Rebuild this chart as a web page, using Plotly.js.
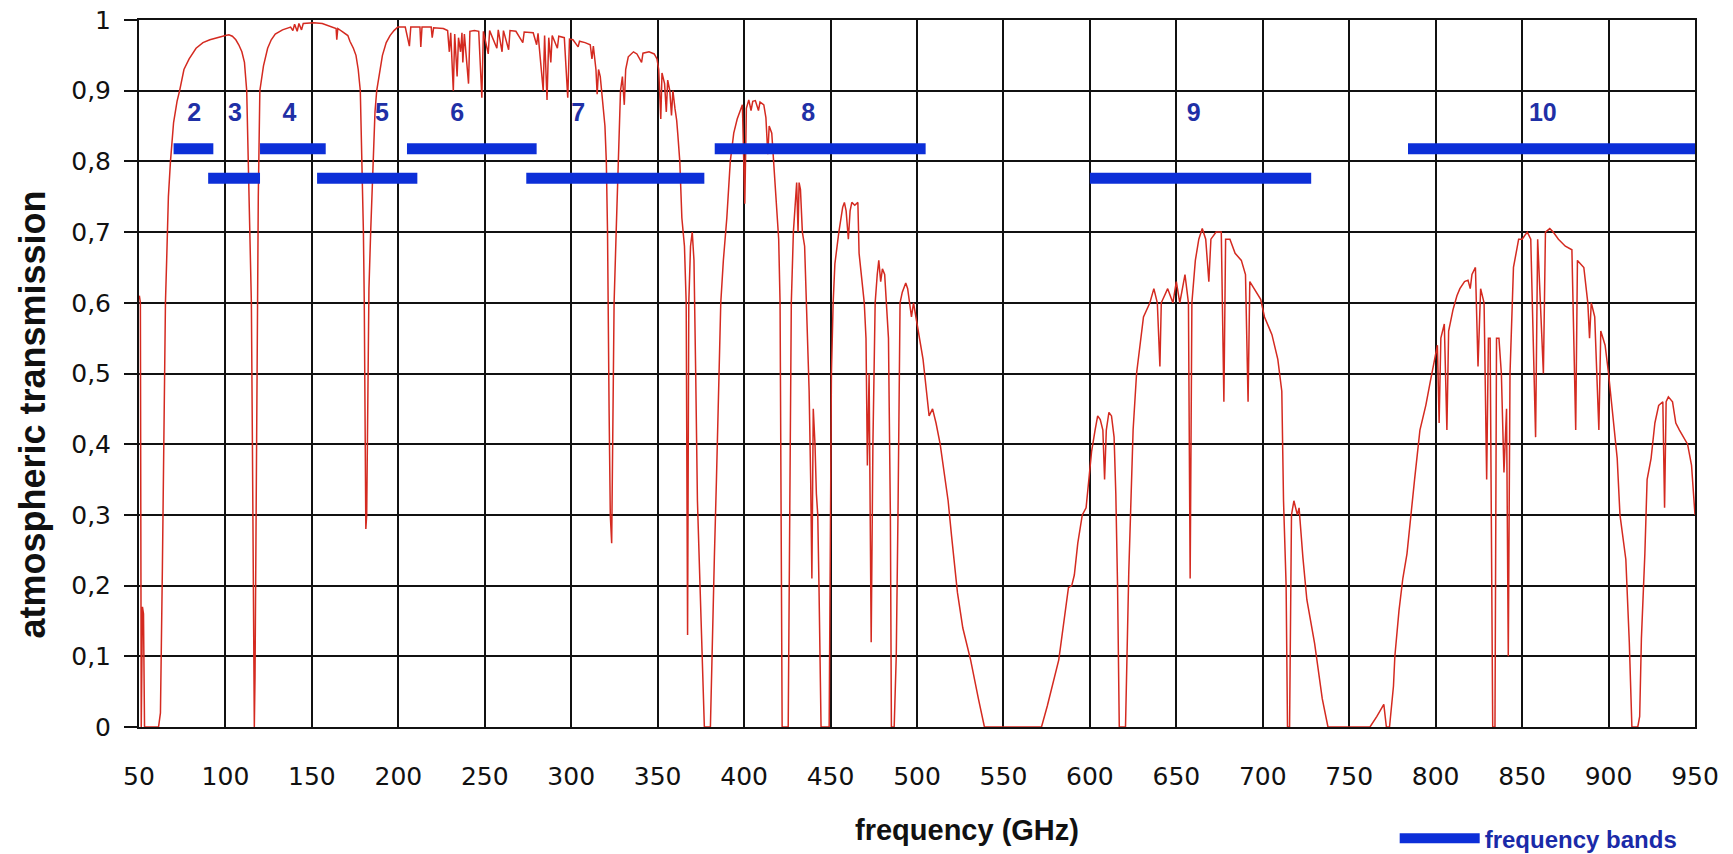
<!DOCTYPE html>
<html>
<head>
<meta charset="utf-8">
<script src="https://cdn.plot.ly/plotly-3.0.1.min.js"></script>
<style>
  html, body { margin: 0; padding: 0; background: #ffffff; }
  #chart { width: 1733px; height: 854px; }
</style>
</head>
<body>
<div id="chart"></div>
<script>
// ---- Data ----
const freqGHz = [
  50.2, 50.8, 51.3, 52.0, 52.6, 53.2, 61.3, 62.4, 63.5, 64.6, 65.3, 66.0, 67.0, 68.2, 70.0, 72.0, 73.5, 76.0, 79.0, 83.0,
  87.0, 91.0, 95.0, 100.0, 102.0, 104.0, 106.0, 107.7, 109.5, 111.0, 112.3, 113.3, 114.3, 115.0, 115.6, 116.0, 116.4, 116.7, 117.1, 117.5,
  117.9, 118.3, 119.0, 119.9, 122.0, 124.4, 126.5, 128.8, 133.0, 137.7, 139.0, 140.0, 141.5, 142.5, 144.0, 145.0, 151.0, 156.0, 160.0, 164.0,
  164.4, 165.0, 168.0, 170.8, 172.0, 174.0, 175.5, 176.8, 178.0, 179.0, 179.8, 180.3, 180.8, 181.2, 181.7, 182.3, 183.0, 184.0, 185.3, 186.5,
  187.5, 189.0, 190.8, 193.0, 195.2, 197.5, 199.7, 204.0, 206.4, 207.2, 212.5, 213.0, 213.7, 219.0, 219.6, 220.4, 226.0, 228.5, 229.5, 230.3,
  231.8, 232.6, 234.0, 234.8, 236.0, 236.8, 237.3, 238.2, 240.6, 241.4, 244.0, 246.5, 248.3, 249.2, 252.0, 252.8, 257.0, 257.8, 260.0, 260.8,
  263.8, 264.6, 268.0, 272.0, 272.8, 278.0, 280.0, 280.8, 283.8, 284.6, 286.0, 287.0, 288.2, 289.0, 292.0, 292.8, 296.0, 298.0, 299.0, 301.0,
  304.0, 304.8, 308.0, 311.0, 312.0, 312.8, 314.3, 315.0, 315.8, 316.8, 317.6, 318.6, 319.5, 320.3, 321.0, 321.9, 322.6, 323.4, 324.0, 324.8,
  326.0, 327.3, 328.5, 329.6, 330.7, 331.5, 333.0, 336.0, 338.0, 340.7, 341.5, 345.0, 348.0, 349.6, 350.6, 351.8, 352.5, 354.0, 355.0, 355.8,
  357.0, 358.0, 358.8, 360.0, 361.0, 361.6, 362.8, 364.0, 365.5, 366.5, 367.3, 368.0, 369.0, 370.0, 371.0, 372.0, 373.0, 374.5, 376.0, 377.0,
  380.5, 381.5, 382.8, 384.0, 385.5, 386.5, 388.0, 390.0, 392.0, 394.0, 396.0, 399.0, 400.4, 401.3, 402.7, 404.0, 405.0, 406.5, 408.3, 409.2,
  411.4, 412.6, 413.7, 414.5, 416.0, 417.0, 418.5, 420.0, 420.8, 421.5, 422.0, 425.5, 426.5, 427.3, 428.5, 430.4, 431.2, 431.8, 432.6, 433.7,
  435.0, 436.0, 437.0, 437.6, 438.5, 439.2, 440.0, 441.0, 441.8, 442.6, 443.3, 444.5, 449.2, 449.8, 450.5, 451.5, 452.5, 454.8, 457.0, 458.0,
  459.0, 460.3, 461.3, 462.3, 464.0, 465.8, 466.5, 468.0, 469.5, 470.5, 471.3, 472.3, 473.5, 474.5, 475.8, 477.0, 477.9, 479.0, 480.0, 481.3,
  482.4, 483.5, 484.6, 485.2, 486.8, 488.0, 489.0, 490.2, 491.5, 493.5, 494.6, 496.8, 498.0, 500.0, 503.5, 505.7, 507.0, 509.0, 511.0, 513.4,
  515.6, 518.0, 520.0, 522.3, 523.4, 526.5, 531.0, 535.5, 539.0, 572.0, 575.4, 582.0, 587.6, 589.5, 591.0, 593.0, 595.6, 597.8, 599.5, 601.0,
  603.0, 604.5, 606.0, 607.5, 608.5, 609.5, 611.0, 612.5, 614.0, 615.0, 616.0, 617.0, 620.6, 621.5, 622.5, 623.5, 625.0, 627.0, 628.8, 631.0,
  634.7, 637.0, 639.0, 640.5, 641.3, 645.0, 648.0, 650.0, 652.0, 655.0, 657.0, 658.0, 659.0, 661.0, 663.0, 665.0, 667.0, 668.8, 670.0, 673.0,
  676.0, 677.5, 678.5, 681.0, 684.0, 687.6, 690.0, 691.5, 692.5, 695.0, 698.8, 701.0, 705.3, 708.7, 711.0, 712.0, 713.5, 714.3, 715.5, 716.6,
  718.0, 720.0, 721.0, 723.2, 725.5, 730.0, 734.4, 737.7, 762.0, 766.0, 770.0, 771.5, 773.3, 775.6, 776.4, 778.8, 781.0, 783.4, 785.0, 787.8,
  790.9, 794.3, 797.0, 799.0, 801.0, 802.0, 803.0, 805.0, 806.5, 807.5, 810.0, 812.3, 814.0, 816.7, 818.7, 820.0, 821.0, 823.0, 824.5, 826.0,
  828.0, 829.5, 830.5, 831.5, 832.5, 833.0, 834.3, 835.2, 836.6, 838.0, 839.5, 841.0, 842.0, 843.0, 845.0, 848.0, 850.0, 853.0, 855.0, 857.8,
  859.0, 862.3, 863.5, 866.0, 868.0, 871.0, 875.0, 878.8, 881.0, 882.0, 885.7, 888.0, 889.0, 890.0, 892.0, 894.4, 895.5, 898.0, 900.0, 903.4,
  905.0, 906.6, 910.0, 912.0, 913.5, 916.9, 918.0, 919.0, 921.0, 922.3, 924.6, 926.8, 929.0, 931.4, 932.4, 933.3, 934.6, 937.0, 938.9, 941.0,
  943.5, 945.7, 948.0, 949.0, 950.0
];
const transmission = [
  0.61, 0.60, 0.0, 0.17, 0.16, 0.0, 0.0, 0.02, 0.22, 0.5, 0.6, 0.66, 0.75, 0.8, 0.855, 0.885, 0.9, 0.93, 0.945, 0.96,
  0.968, 0.972, 0.975, 0.978, 0.979, 0.977, 0.972, 0.965, 0.955, 0.94, 0.9, 0.8, 0.7, 0.6, 0.4, 0.22, 0.07, 0.0, 0.07, 0.22,
  0.45, 0.6, 0.75, 0.9, 0.935, 0.96, 0.972, 0.98, 0.986, 0.99, 0.985, 0.994, 0.984, 0.995, 0.986, 0.995, 0.996, 0.995, 0.992, 0.988,
  0.972, 0.988, 0.983, 0.978, 0.97, 0.96, 0.95, 0.93, 0.9, 0.8, 0.7, 0.6, 0.45, 0.28, 0.3, 0.45, 0.62, 0.7, 0.8, 0.87,
  0.9, 0.925, 0.95, 0.968, 0.978, 0.985, 0.99, 0.99, 0.963, 0.99, 0.99, 0.962, 0.99, 0.99, 0.975, 0.989, 0.988, 0.985, 0.955, 0.982,
  0.9, 0.98, 0.92, 0.975, 0.955, 0.982, 0.94, 0.98, 0.91, 0.984, 0.985, 0.984, 0.89, 0.984, 0.952, 0.985, 0.96, 0.986, 0.955, 0.985,
  0.958, 0.985, 0.984, 0.968, 0.983, 0.982, 0.965, 0.981, 0.9, 0.978, 0.887, 0.975, 0.94, 0.978, 0.96, 0.977, 0.975, 0.89, 0.973, 0.972,
  0.962, 0.97, 0.968, 0.965, 0.945, 0.963, 0.93, 0.895, 0.93, 0.92, 0.9, 0.875, 0.85, 0.8, 0.7, 0.45, 0.3, 0.26, 0.4, 0.6,
  0.7, 0.8, 0.9, 0.92, 0.88, 0.93, 0.948, 0.955, 0.952, 0.94, 0.953, 0.955, 0.952, 0.945, 0.93, 0.86, 0.925, 0.91, 0.87, 0.915,
  0.9, 0.865, 0.9, 0.875, 0.858, 0.84, 0.8, 0.72, 0.68, 0.6, 0.13, 0.6, 0.68, 0.7, 0.66, 0.5, 0.32, 0.2, 0.085, 0.0,
  0.0, 0.12, 0.24, 0.35, 0.5, 0.6, 0.66, 0.72, 0.8, 0.84, 0.86, 0.88, 0.74, 0.875, 0.887, 0.872, 0.885, 0.886, 0.872, 0.884,
  0.88, 0.862, 0.81, 0.85, 0.84, 0.8, 0.75, 0.69, 0.6, 0.3, 0.0, 0.0, 0.3, 0.6, 0.7, 0.77, 0.7, 0.77, 0.76, 0.7,
  0.68, 0.6, 0.5, 0.476, 0.35, 0.21, 0.45, 0.4, 0.33, 0.3, 0.2, 0.0, 0.0, 0.31, 0.5, 0.6, 0.655, 0.7, 0.735, 0.742,
  0.73, 0.69, 0.73, 0.742, 0.738, 0.742, 0.67, 0.635, 0.6, 0.55, 0.37, 0.5, 0.12, 0.4, 0.6, 0.64, 0.66, 0.63, 0.648, 0.64,
  0.6, 0.55, 0.3, 0.0, 0.0, 0.1, 0.3, 0.6, 0.615, 0.628, 0.62, 0.58, 0.6, 0.57, 0.52, 0.47, 0.44, 0.45, 0.43, 0.4,
  0.36, 0.32, 0.27, 0.22, 0.19, 0.14, 0.095, 0.04, 0.0, 0.0, 0.03, 0.095, 0.197, 0.2, 0.215, 0.26, 0.3, 0.31, 0.35, 0.39,
  0.42, 0.44, 0.435, 0.42, 0.35, 0.42, 0.445, 0.44, 0.41, 0.33, 0.2, 0.0, 0.0, 0.12, 0.22, 0.3, 0.42, 0.5, 0.54, 0.58,
  0.6, 0.62, 0.6, 0.51, 0.6, 0.62, 0.6, 0.63, 0.6, 0.64, 0.6, 0.21, 0.6, 0.66, 0.69, 0.705, 0.69, 0.63, 0.69, 0.7,
  0.7, 0.46, 0.69, 0.69, 0.67, 0.66, 0.64, 0.46, 0.63, 0.62, 0.605, 0.58, 0.555, 0.52, 0.475, 0.32, 0.2, 0.0, 0.0, 0.3,
  0.32, 0.3, 0.31, 0.24, 0.18, 0.118, 0.04, 0.0, 0.0, 0.015, 0.032, 0.0, 0.0, 0.058, 0.1, 0.165, 0.21, 0.245, 0.28, 0.35,
  0.42, 0.455, 0.49, 0.515, 0.54, 0.43, 0.55, 0.57, 0.42, 0.56, 0.59, 0.61, 0.62, 0.63, 0.632, 0.62, 0.64, 0.65, 0.51, 0.62,
  0.6, 0.35, 0.55, 0.55, 0.1, 0.0, 0.0, 0.55, 0.55, 0.5, 0.36, 0.45, 0.1, 0.5, 0.65, 0.69, 0.69, 0.7, 0.69, 0.41,
  0.69, 0.5, 0.7, 0.705, 0.7, 0.69, 0.68, 0.675, 0.42, 0.66, 0.65, 0.6, 0.55, 0.6, 0.58, 0.42, 0.56, 0.54, 0.5, 0.42,
  0.38, 0.3, 0.237, 0.12, 0.0, 0.0, 0.015, 0.125, 0.245, 0.35, 0.38, 0.43, 0.455, 0.46, 0.31, 0.46, 0.467, 0.46, 0.43, 0.42,
  0.41, 0.4, 0.37, 0.33, 0.3
];

// Receiver bands (GHz)
const bandNames  = ['2', '3', '4', '5', '6', '7', '8', '9', '10'];
const bandLow    = [70, 90, 120, 153, 205, 274, 383, 600, 784];
const bandHigh   = [93, 120, 158, 211, 280, 377, 505, 728, 950];
const bandLabelFreq = [82, 105.5, 137, 190.5, 234, 304, 437, 660, 862];

// Axis ticks
const xTickVals = [50, 100, 150, 200, 250, 300, 350, 400, 450, 500, 550, 600, 650, 700, 750, 800, 850, 900, 950];
const yTickVals = [0, 0.1, 0.2, 0.3, 0.4, 0.5, 0.6, 0.7, 0.8, 0.9, 1];

// ---- Drawing ----
const UPPER_ROW = 0.818, LOWER_ROW = 0.776, LABEL_ROW = 0.866;
const bandX = [], bandY = [];
bandLow.forEach((lo, i) => {
  const lvl = (i % 2 === 0) ? UPPER_ROW : LOWER_ROW;
  bandX.push(lo, bandHigh[i], null);
  bandY.push(lvl, lvl, null);
});

const curve = {
  x: freqGHz, y: transmission, type: 'scatter', mode: 'lines',
  line: { color: '#d42a20', width: 1.5 },
  showlegend: false, hoverinfo: 'x+y'
};
const bands = {
  x: bandX, y: bandY, type: 'scatter', mode: 'lines',
  line: { color: '#0c2fd8', width: 11 },
  name: 'frequency bands', showlegend: true, connectgaps: false
};
const labels = {
  x: bandLabelFreq, y: bandLabelFreq.map(() => LABEL_ROW),
  type: 'scatter', mode: 'text', text: bandNames,
  textposition: 'middle center',
  textfont: { family: 'Liberation Sans', size: 25, color: '#1f30a6', weight: 'bold' },
  showlegend: false, hoverinfo: 'skip'
};

const tickFont = { family: 'DejaVu Sans', size: 25, color: '#111111' };
const layout = {
  width: 1733, height: 854,
  margin: { l: 139, r: 38, t: 20, b: 127, pad: 0, autoexpand: false },
  paper_bgcolor: '#ffffff', plot_bgcolor: '#ffffff',
  separators: ', ',
  showlegend: true,
  legend: {
    x: 0.807, y: -0.158, xanchor: 'left', yanchor: 'middle',
    bgcolor: 'rgba(0,0,0,0)', itemwidth: 80, tracegroupgap: 0,
    font: { family: 'Liberation Sans', size: 24, color: '#1a2aa8', weight: 'bold' }
  },
  xaxis: {
    range: [50, 950], tickmode: 'array', tickvals: xTickVals,
    showgrid: true, gridcolor: '#111111', gridwidth: 2,
    showline: true, linecolor: '#111111', linewidth: 2, mirror: true,
    zeroline: false, ticks: '', tickfont: tickFont, ticklabelstandoff: 26,
    fixedrange: true
  },
  yaxis: {
    range: [0, 1], tickmode: 'array', tickvals: yTickVals,
    showgrid: true, gridcolor: '#111111', gridwidth: 2,
    showline: true, linecolor: '#111111', linewidth: 2, mirror: true,
    zeroline: false, ticks: 'outside', ticklen: 13, tickwidth: 2, tickcolor: '#111111',
    tickfont: tickFont, ticklabelstandoff: 8, fixedrange: true
  },
  annotations: [
    { text: 'frequency (GHz)', xref: 'paper', yref: 'paper', x: 0.532, y: -0.145,
      xanchor: 'center', yanchor: 'middle', showarrow: false,
      font: { family: 'Liberation Sans', size: 29, color: '#111111', weight: 'bold' } },
    { text: 'atmospheric transmission', xref: 'paper', yref: 'paper', x: -0.0683, y: 0.4415,
      xanchor: 'center', yanchor: 'middle', showarrow: false, textangle: -90,
      font: { family: 'Liberation Sans', size: 36, color: '#111111', weight: 'bold' } }
  ]
};

Plotly.newPlot('chart', [curve, bands, labels], layout, { displayModeBar: false, staticPlot: true });
</script>
</body>
</html>
